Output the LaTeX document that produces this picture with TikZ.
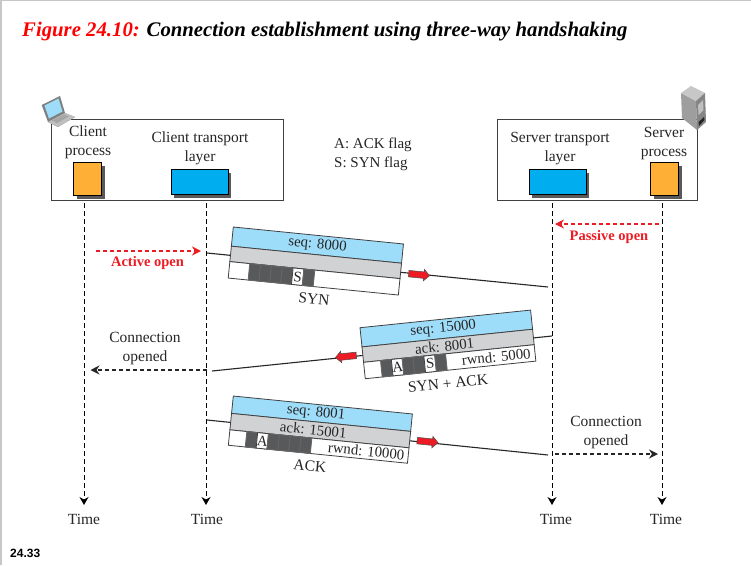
\documentclass[tikz,border=0pt]{standalone}
\usepackage{fontspec}
\setmainfont{Liberation Serif}
\newfontfamily\slidefont{Liberation Sans}
\usepackage{tikz}
\usetikzlibrary{positioning, arrows.meta, shapes.arrows, shadows}
\definecolor{procorange}{HTML}{FDB035}
\definecolor{layerblue}{HTML}{00AEEF}
\definecolor{seqblue}{HTML}{9EDDF9}
\definecolor{ackgray}{HTML}{D1D2D4}
\definecolor{flagdark}{HTML}{58595B}
\definecolor{openred}{HTML}{ED1C24}
\newcommand{\labelfont}{\fontsize{15.5}{19}\selectfont}
\newcommand{\segfont}{\fontsize{14.8}{17}\selectfont}

\begin{document}
\begin{tikzpicture}[
  x=1pt, y=-1pt,
  lbl/.style={font=\labelfont, align=center, text=black!85, inner sep=0pt},
  hostbox/.style={draw=black!75, line width=1.1pt, fill=white, minimum height=81, inner sep=0pt},
  unitbox/.style={draw=black, line width=1pt, inner sep=0pt,
                  drop shadow={shadow xshift=3pt, shadow yshift=-3pt, fill=black!65, opacity=1}},
  procbox/.style={unitbox, fill=procorange, minimum width=28, minimum height=33},
  layerbox/.style={unitbox, fill=layerblue, minimum width=57, minimum height=25},
  lane/.style={dash pattern=on 5pt off 3pt, line width=1pt, -{Stealth[length=8pt, width=9pt]}},
  openarr/.style={dash pattern=on 4pt off 3pt, line width=1.2pt, openred, -{Stealth[length=9pt, width=9pt]}},
  donearr/.style={dash pattern=on 4pt off 3pt, line width=1.2pt, black!85, -{Stealth[length=9pt, width=9pt]}},
  segline/.style={line width=1.1pt, black!85},
  segtext/.style={inner sep=0pt, outer sep=0pt, font=\segfont, text=black!85, transform shape},
  segrow/.style={segtext, draw=black!75, line width=.8pt},
  seqrow/.style={segrow, fill=seqblue, minimum height=19.3},
  ackrow/.style={segrow, fill=ackgray, minimum height=15.5},
  flagrow/.style={segrow, fill=white, minimum height=16.5},
  flagcell/.style={segrow, fill=flagdark, draw=black!60, minimum width=10.9, minimum height=16.5},
  flagon/.style={flagcell, fill=white, draw=black!75},
  redarrow/.style={single arrow, draw=black!70, line width=.5pt, fill=openred, inner sep=3pt,
                   minimum height=21, single arrow head extend=2.5pt},
  opentxt/.style={font=\fontsize{14.5}{17}\selectfont\bfseries, text=openred, inner sep=0pt}
]
\useasboundingbox (0,0) rectangle (751,565);
\fill[white] (0,0) rectangle (751,565);
\draw[black!22, line width=1.6pt] (.8,565) -- (.8,.6) -- (751,.6);

% title
\node[anchor=west, inner sep=0pt, font=\fontsize{20.75}{24}\selectfont\bfseries\itshape] (title) at (22,32)
  {\textcolor{red}{Figure 24.10:} Connection establishment using three-way handshaking};
\node[anchor=west, inner sep=0pt, font=\fontsize{12}{14}\selectfont\bfseries\slidefont] (slideno) at (10,553) {24.33};

% time lines
\coordinate (cptop) at (84,203);
\coordinate (cttop) at (206,203);
\coordinate (sttop) at (552,203);
\coordinate (sptop) at (662,203);
\coordinate (cpend) at (84,505);
\coordinate (ctend) at (206,505);
\coordinate (stend) at (552,505);
\coordinate (spend) at (662,505);
\draw[lane] (cptop) -- (cpend);
\draw[lane] (cttop) -- (ctend);
\draw[lane] (sttop) -- (stend);
\draw[lane] (sptop) -- (spend);
\node[lbl] (timea) at (84,519) {Time};
\node[lbl] (timeb) at (207,519) {Time};
\node[lbl] (timec) at (556,519) {Time};
\node[lbl] (timed) at (666,519) {Time};

% hosts
\node[hostbox, minimum width=232, anchor=north west] (client) at (51,119) {};
\node[hostbox, minimum width=200, anchor=north west] (server) at (497,119) {};
\node[procbox, anchor=north west] (cproc) at (73,162) {};
\node[layerbox, anchor=north west] (clayer) at (170.5,169) {};
\node[layerbox, anchor=north west] (slayer) at (528.5,169) {};
\node[procbox, anchor=north west] (sproc) at (650,162) {};
\node[lbl] (cproctxt) at (88,142.5) {Client\\process};
\node[lbl] (clayertxt) at (200,148.5) {Client transport\\layer};
\node[lbl] (slayertxt) at (560,148.5) {Server transport\\layer};
\node[lbl] (sproctxt) at (664,143.5) {Server\\process};
\node[lbl, align=left, anchor=west, font=\fontsize{15}{19}\selectfont] (legend) at (334,154) {A: ACK flag\\S: SYN flag};

% laptop
\fill[black!50] (41.7,105) -- (60,96) -- (65,113) -- (75,117) -- (58,127) -- (48,122) -- cycle;
\fill[black!25] (48,122) -- (65,113) -- (75,117) -- (58,127) -- cycle;
\fill[black!35] (52,120.5) -- (64,114.5) -- (69,116.5) -- (57,123) -- cycle;
\fill[seqblue] (44.5,105.5) -- (58.5,98.5) -- (62.5,111.5) -- (49,118.5) -- cycle;
% server
\fill[black!38] (681,93) -- (696,101) -- (697,130) -- (682,118) -- cycle;
\fill[black!22] (681,93) -- (691,86) -- (705,93) -- (696,101) -- cycle;
\fill[black!48] (696,101) -- (705,93) -- (706,122) -- (697,130) -- cycle;
\fill[black!25] (698,105) -- (703,100) -- (703.5,110) -- (698.5,115) -- cycle;
\fill[black!85] (698.5,122) -- (704,117) -- (704.5,120) -- (699,126) -- cycle;

% opening arrows
\coordinate (acta) at (96,251);
\coordinate (actb) at (201,251);
\draw[openarr] (acta) -- (actb);
\node[opentxt] (acttxt) at (147.5,263.5) {Active open};
\coordinate (pasa) at (659,224);
\coordinate (pasb) at (555,224);
\draw[openarr] (pasa) -- (pasb);
\node[opentxt] (pastxt) at (609,237.5) {Passive open};

% segment lines
\coordinate (syna) at (207,253);
\coordinate (synb) at (548,287);
\coordinate (saa) at (552,336);
\coordinate (sab) at (212,371);
\coordinate (acka) at (207,420);
\coordinate (ackb) at (548,455);
\draw[segline] (syna) -- (synb);
\draw[segline] (saa) -- (sab);
\draw[segline] (acka) -- (ackb);

% SYN
\begin{scope}[shift={(233.3,227)}, rotate=-5.7]
\node[seqrow, minimum width=171, anchor=north west] (synseq) at (0,0) {seq: 8000};
\node[ackrow, minimum width=171, below=0pt of synseq] (synack) {};
\node[flagrow, minimum width=171, below=0pt of synack] (synflag) {};
\node[flagcell, anchor=north west] (synf) at (20,34.8) {};
\node[flagcell, right=0pt of synf] (syne) {};
\node[flagcell, right=0pt of syne] (synd) {};
\node[flagcell, right=0pt of synd] (sync) {};
\node[flagon, right=0pt of sync] (synb) {S};
\node[flagcell, right=0pt of synb] (synl) {};
\end{scope}
\node[redarrow, rotate=-5.7] (synarr) at (417.5,274.5) {};
\node[lbl, rotate=-5.7] (syntxt) at (314,299) {SYN};

% SYN + ACK
\begin{scope}[shift={(360,327.7)}, rotate=5.9]
\node[seqrow, minimum width=171.5, anchor=north west] (saseq) at (0,0) {seq: 15000\hspace*{6pt}};
\node[ackrow, minimum width=171.5, below=0pt of saseq] (saack) {ack: 8001\hspace*{7pt}};
\node[flagrow, minimum width=171.5, below=0pt of saack] (saflag) {};
\node[flagcell, anchor=north west] (saf) at (17,34.8) {};
\node[flagon, right=0pt of saf] (sae) {A};
\node[flagcell, right=0pt of sae] (sad) {};
\node[flagcell, right=0pt of sad] (sac) {};
\node[flagon, right=0pt of sac] (sab) {S};
\node[flagcell, right=0pt of sab] (sal) {};
\node[segtext, anchor=east] (sarwnd) at (167,43) {rwnd: 5000};
\end{scope}
\node[redarrow, rotate=185.9] (saarr) at (347.5,356.3) {};
\node[lbl, rotate=5.9] (satxt) at (448,383.5) {SYN + ACK};

% ACK
\begin{scope}[shift={(233.3,396)}, rotate=-5.73]
\node[seqrow, minimum width=180, minimum height=17.5, anchor=north west] (ackseq) at (0,0) {seq: 8001\hspace*{12pt}};
\node[ackrow, minimum width=180, minimum height=16.5, below=0pt of ackseq] (ackack) {ack: 15001\hspace*{14pt}};
\node[flagrow, minimum width=180, minimum height=15.5, below=0pt of ackack] (ackflag) {};
\node[flagcell, minimum height=15.5, anchor=north west] (ackf) at (17,34) {};
\node[flagon, minimum height=15.5, right=0pt of ackf] (acke) {A};
\node[flagcell, minimum height=15.5, right=0pt of acke] (ackd) {};
\node[flagcell, minimum height=15.5, right=0pt of ackd] (ackc) {};
\node[flagcell, minimum height=15.5, right=0pt of ackc] (ackbb) {};
\node[flagcell, minimum height=15.5, right=0pt of ackbb] (ackl) {};
\node[segtext, anchor=east] (ackrwnd) at (176,41.5) {rwnd: 10000};
\end{scope}
\node[redarrow, rotate=-5.7] (ackarr) at (426,441.5) {};
\node[lbl, rotate=-5.7] (acktxt) at (310,466) {ACK};

% connection opened
\coordinate (cona) at (207,370);
\coordinate (conb) at (90.5,370);
\draw[donearr] (cona) -- (conb);
\node[lbl] (contxta) at (145,348.5) {Connection\\opened};
\coordinate (donea) at (555,454);
\coordinate (doneb) at (658,454);
\draw[donearr] (donea) -- (doneb);
\node[lbl] (contxtb) at (606,432.5) {Connection\\opened};
\end{tikzpicture}
\end{document}
